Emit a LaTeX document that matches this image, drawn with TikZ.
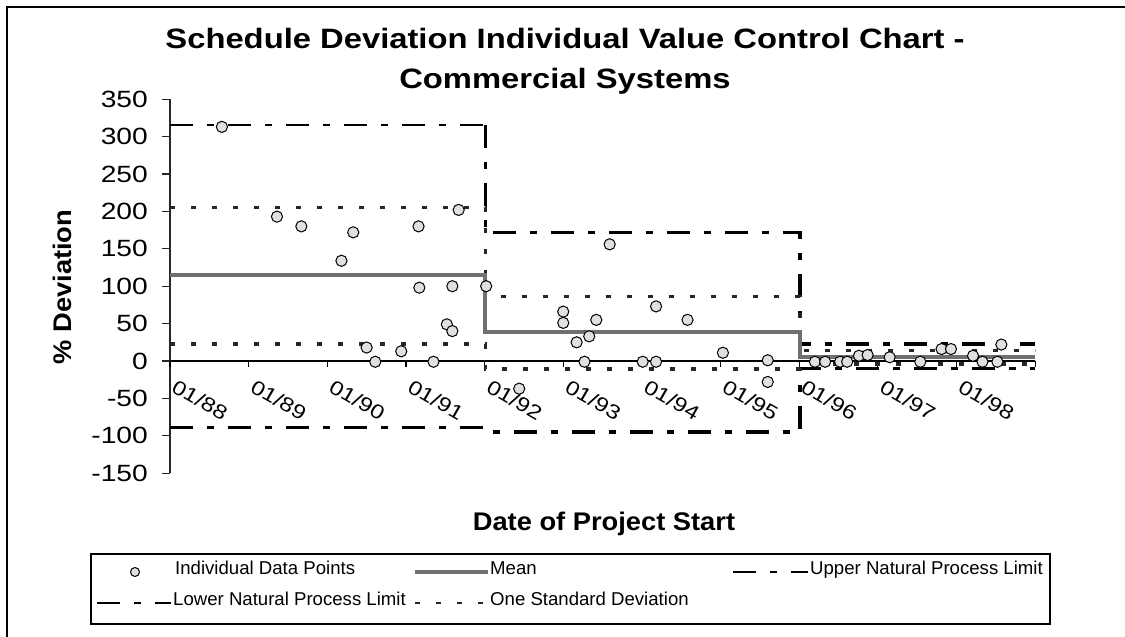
\documentclass[tikz,border=0pt]{standalone}
\usepackage{fontspec}
\setmainfont{Liberation Sans}
\newfontfamily\titlefont[FakeStretch=1.17]{Liberation Sans}
\newfontfamily\tickfont[FakeStretch=1.2]{Liberation Sans}
\newfontfamily\axisfont[FakeStretch=1.07]{Liberation Sans}
\definecolor{meangray}{RGB}{112,112,112}
\definecolor{dotgray}{RGB}{224,224,224}
\tikzset{
  datapt/.style={draw=black,fill=dotgray,line width=1pt},
  meanline/.style={meangray,line width=4pt},
  limitline/.style={black,line width=3.5pt,dash pattern=on 23pt off 14pt on 7pt off 14pt},
  sigmaline/.style={black!85,line width=3.5pt,dash pattern=on 5pt off 16pt},
  ylab/.style={anchor=east,inner sep=0pt,font=\tickfont\fontsize{23.5}{23.5}\selectfont},
  xlab/.style={rotate=-30,inner sep=0pt,font=\tickfont\fontsize{20}{20}\selectfont},
  legtext/.style={anchor=mid west,inner sep=0pt,font=\fontsize{18.6}{18.6}\selectfont},
}

\begin{document}
\begin{tikzpicture}[x=1pt,y=-1pt]
\useasboundingbox (0,0) rectangle (1125,637);
% outer frame
\draw[line width=2pt] (7,637) -- (7,7) -- (1125,7);
% titles
\node[font=\titlefont\bfseries\fontsize{28}{28}\selectfont,anchor=base] (title1) at (565,48)
    {Schedule Deviation Individual Value Control Chart -};
\node[font=\titlefont\bfseries\fontsize{28}{28}\selectfont,anchor=base] (title2) at (565,88)
    {Commercial Systems};
\node[font=\axisfont\bfseries\fontsize{25.5}{25.5}\selectfont,rotate=90] (ytitle) at (62,287)
    {\% Deviation};
\node[font=\axisfont\bfseries\fontsize{25.5}{25.5}\selectfont,anchor=base] (xtitle) at (604,530)
    {Date of Project Start};

% plot area: x in years from 01/88, y in % deviation
\begin{scope}[shift={(170pt,-361pt)},x=78.65pt,y=0.748pt]
\draw[black!85,line width=1.2pt] (0,350) -- (0,-150);
\foreach \v in {-150,-100,...,350} {
    \draw[black!85,line width=1.2pt] ([xshift=-8pt]0,\v) -- (0,\v);
    \node[ylab] at ([xshift=-22pt]0,\v) {\v};
}
\draw[line width=1.1pt] (0,0) -- (11,0);
\foreach \i in {0,...,11}
    \draw[line width=1.1pt] (\i,0) -- ([yshift=-6pt]\i,0);
\foreach \yr [count=\i from 0] in {88,...,98}
    \node[xlab] at ([xshift=30pt,yshift=-39pt]\i,0) {01/\yr};

% limits, sigma and mean
\draw[limitline,line width=2pt] (0,316) -- (4.01,316);
\draw[limitline] (4.01,316) -- (4.01,171.5) -- (8.01,171.5) -- (8.01,22.7) -- (11,22.7);
\draw[limitline] (0,-89) -- (4.01,-89) -- (4.01,-95) -- (8.01,-95) -- (8.01,-10) -- (11,-10);
\draw[sigmaline] (0,205) -- (4.01,205) -- (4.01,86) -- (8.01,86) -- (8.01,14) -- (11,14);
\draw[sigmaline] (0,22.7) -- (4.01,22.7) -- (4.01,-10.7) -- (8.01,-10.7) -- (8.01,-4) -- (11,-4);
\draw[meanline] (0,115) -- (4.01,115) -- (4.01,39) -- (8.01,39) -- (8.01,5) -- (11,5);

% individual data points
\foreach \t/\v in {0.66/313,1.36/193,1.67/180,2.18/134,2.33/172,2.50/18,2.61/-1,
    2.94/13,3.16/180,3.17/98,3.35/-1,3.52/49,3.59/40,3.59/100,3.67/202,4.02/100,
    4.44/-37,5.00/66,5.00/51,5.17/25,5.27/-1,5.33/33,5.42/55,5.59/156,6.01/-1,
    6.18/-1,6.18/73,6.58/55,7.03/11,7.60/1,7.60/-28,
    8.20/-1,8.33/-1,8.52/-1,8.61/-1,8.76/7,8.87/8,9.15/5,9.54/-1,9.81/16,
    9.93/16,10.21/7,10.33/-1,10.52/-1,10.57/22}
    \draw[datapt] (\t,\v) circle[radius=5.6pt];
\end{scope}

% legend
\draw[line width=1.3pt] (91,554) rectangle (1050,624);
\draw[datapt] (135,572) circle[radius=4.5pt];
\node[legtext] (legpts) at (175,572) {Individual Data Points};
\draw[meanline] (415,572) -- (488,572);
\node[legtext] (legmean) at (490,572) {Mean};
\draw[limitline,line width=2.5pt] (733,572) -- (808,572);
\node[legtext] (legunpl) at (810,572) {Upper Natural Process Limit};
\draw[limitline,line width=2.5pt] (97,603) -- (171,603);
\node[legtext] (leglnpl) at (173,603) {Lower Natural Process Limit};
\draw[sigmaline,line width=2pt] (415,603) -- (488,603);
\node[legtext] (legsigma) at (490,603) {One Standard Deviation};
\end{tikzpicture}
\end{document}
